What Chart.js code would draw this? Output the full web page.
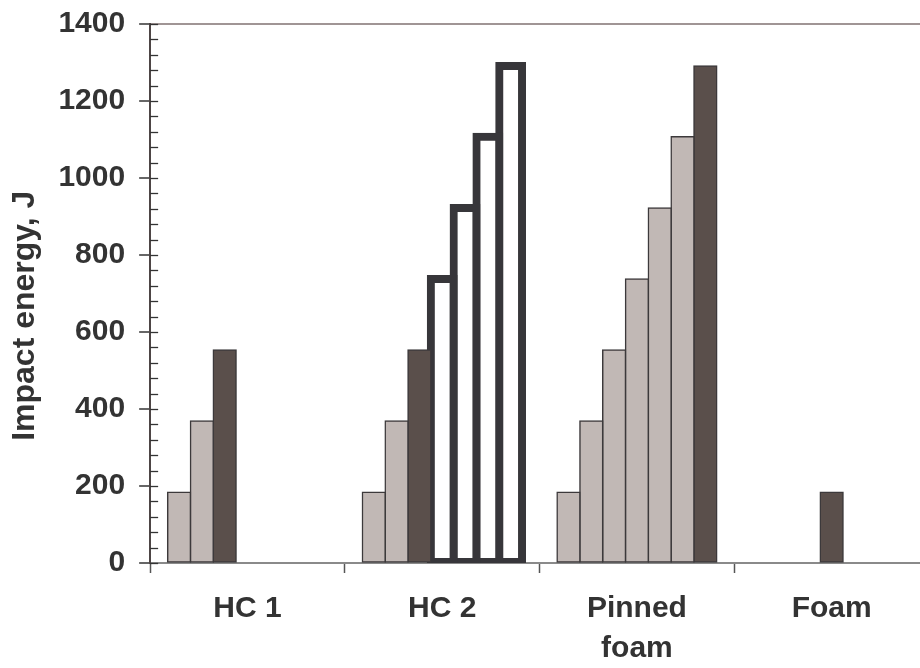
<!DOCTYPE html>
<html lang="en">
<head>
<meta charset="UTF-8">
<title>Impact energy</title>
<script src="https://cdn.jsdelivr.net/npm/chart.js"></script>
<style>
    html, body { margin: 0; padding: 0; background: #fff; overflow: hidden; }
    .wrap { width: 920px; height: 668px; overflow: hidden; }
</style>
</head>
<body>
<div class="wrap"><canvas id="impact-chart" width="940" height="668"></canvas></div>
<script>
// categories and the seven bars of each group (null = no bar)
const categories = ['HC 1', 'HC 2', ['Pinned', 'foam'], 'Foam'];
const bar1 = [184, 184, 184, null];
const bar2 = [369, 369, 369, null];
const bar3 = [553, 553, 553, null];
const bar4 = [null, 738, 738, 184];
const bar5 = [null, 922, 922, null];
const bar6 = [null, 1107, 1107, null];
const bar7 = [null, 1291, 1291, null];
const yTicks = [0, 200, 400, 600, 800, 1000, 1200, 1400];

// look of each bar: L = light, D = dark, O = open outline
const kinds = [
    ['L', 'L', 'D', '-', '-', '-', '-'],
    ['L', 'L', 'D', 'O', 'O', 'O', 'O'],
    ['L', 'L', 'L', 'L', 'L', 'L', 'D'],
    ['-', '-', '-', 'D', '-', '-', '-']
];
const fills = { L: '#c1b8b5', D: '#5a4f4b', O: '#ffffff', '-': '#ffffff' };
const kindOf = c => kinds[c.dataIndex][c.datasetIndex];

const family = '"Liberation Sans", Arial, sans-serif';
const xFont = { family: family, size: 30, weight: 'bold', lineHeight: 1.333 };
// small lineHeight only trims the space Chart.js keeps above the top label
const yFont = { family: family, size: 30, weight: 'bold', lineHeight: 0.667 };

const minorTicks = {
    id: 'minorTicks',
    afterDraw(chart) {
        const y = chart.scales.y;
        const ctx = chart.ctx;
        const left = chart.chartArea.left;
        ctx.save();
        ctx.strokeStyle = '#333';
        ctx.lineWidth = 1.3;
        for (let v = y.min; v <= y.max; v += 40) {
            const py = Math.round(y.getPixelForValue(v)) + 0.5;
            ctx.beginPath();
            ctx.moveTo(left, py);
            ctx.lineTo(left + 8, py);
            ctx.stroke();
        }
        ctx.restore();
    }
};

const series = [bar1, bar2, bar3, bar4, bar5, bar6, bar7];

new Chart(document.getElementById('impact-chart'), {
    type: 'bar',
    data: {
        labels: categories,
        datasets: series.map((s, i) => ({
            label: 'Bar ' + (i + 1),
            data: s,
            backgroundColor: c => fills[kindOf(c)],
            borderColor: c => kindOf(c) === 'O' ? '#37363a' : '#3c393b',
            borderWidth: c => kindOf(c) === 'O' ? 8 : 1.5,
            inflateAmount: c => kindOf(c) === 'O' ? 4 : 0.75,
            borderSkipped: false,
            categoryPercentage: 0.82,
            barPercentage: 1
        }))
    },
    options: {
        responsive: false,
        animation: false,
        layout: { padding: { left: 6, top: 0, right: 11, bottom: -17 } },
        plugins: { legend: { display: false }, tooltip: { enabled: false } },
        scales: {
            x: {
                grid: { offset: true, drawOnChartArea: false, tickLength: 10, color: '#555', tickWidth: 1.5 },
                border: { color: '#8a8a8a', width: 2 },
                ticks: { color: '#333', font: xFont, padding: 16, maxRotation: 0, autoSkip: false }
            },
            y: {
                min: 0,
                max: 1400,
                afterBuildTicks: s => { s.ticks = yTicks.map(v => ({ value: v })); },
                grid: {
                    color: c => (c.tick && c.tick.value === 1400) ? '#a09595' : 'rgba(0,0,0,0)',
                    lineWidth: 2,
                    tickColor: '#333',
                    tickWidth: 1.5,
                    tickLength: 11
                },
                border: { color: '#4d4545', width: 2 },
                ticks: { color: '#333', font: yFont, padding: 14, callback: v => String(v) },
                title: {
                    display: true,
                    text: 'Impact energy, J     ',
                    color: '#333',
                    font: { family: family, size: 32, weight: 'bold' },
                    padding: { top: 0, bottom: 0 }
                }
            }
        }
    },
    plugins: [minorTicks]
});
</script>
</body>
</html>
